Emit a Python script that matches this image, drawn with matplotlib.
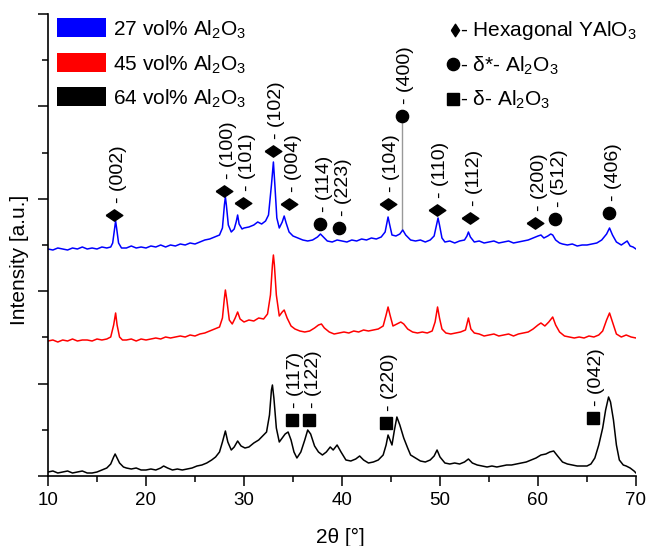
import numpy as np
import matplotlib
matplotlib.use("Agg")
import matplotlib.pyplot as plt
from matplotlib.patches import Rectangle

plt.rcParams['font.family'] = ['Liberation Sans', 'DejaVu Sans']
plt.rcParams['mathtext.fontset'] = 'custom'
plt.rcParams['mathtext.rm'] = 'Liberation Sans'
plt.rcParams['mathtext.it'] = 'Liberation Sans:italic'

# 27 vol% Al2O3 (blue, top)
tt_27 = [10.0, 10.5, 11, 11.5, 12, 12.5, 13, 13.5, 14, 14.5, 15, 15.5, 16, 16.4, 16.6, 16.8, 16.9, 17.0, 17.2,
         17.5, 18, 18.5, 19, 19.5, 20, 20.5, 21, 21.5, 22, 22.5, 23, 23.5, 24, 24.5, 25, 25.5, 26, 26.5, 27,
         27.5, 27.8, 28.0, 28.1, 28.2, 28.4, 28.7, 29.0, 29.2, 29.35, 29.5, 29.8, 30, 30.5, 31, 31.4, 31.8,
         32.2, 32.5, 32.8, 33.0, 33.15, 33.35, 33.6, 33.9, 34.1, 34.3, 34.6, 35, 35.5, 36, 36.5, 37, 37.5,
         37.8, 38.1, 38.5, 39, 39.5, 40, 40.5, 41, 41.5, 42, 42.5, 43, 43.5, 44, 44.4, 44.6, 44.7, 44.85,
         45.1, 45.5, 45.9, 46.2, 46.5, 47, 47.5, 48, 48.5, 49, 49.4, 49.65, 49.8, 49.95, 50.2, 50.5, 51,
         51.5, 52, 52.5, 52.75, 52.9, 53.1, 53.5, 54, 54.5, 55, 55.5, 56, 56.5, 57, 57.5, 58, 58.5, 59, 59.5,
         60, 60.3, 60.6, 61, 61.3, 61.5, 61.8, 62.2, 62.5, 63, 63.5, 64, 64.5, 65, 65.5, 66, 66.5, 67.0,
         67.3, 67.6, 68, 68.5, 68.8, 69.1, 69.4, 69.7, 70]
int_27 = [227, 226, 228, 227, 226, 228, 227, 229, 227, 228, 227, 229, 228, 229, 233, 248, 255, 248, 233,
          228, 228, 230, 228, 229, 228, 230, 229, 231, 229, 231, 230, 232, 231, 233, 232, 234, 236, 237, 239,
          241, 248, 271, 279, 271, 251, 244, 247, 254, 261, 252, 247, 248, 249, 251, 254, 252,
          255, 261, 291, 314, 291, 258, 248, 254, 260, 253, 244, 240, 238, 236, 235, 236, 239,
          242, 239, 235, 234, 236, 235, 234, 236, 235, 237, 236, 238, 237, 239, 244, 254, 259, 252,
          241, 240, 242, 246, 241, 236, 235, 236, 234, 236, 240, 251, 258, 251, 238, 234, 235,
          233, 235, 236, 240, 244, 239, 234, 235, 233, 234, 235, 233, 234, 235, 233, 234, 235, 236, 238,
          240, 241, 238, 240, 242, 241, 236, 233, 232, 231, 232, 230, 231, 231, 232, 233, 236, 242,
          248, 241, 234, 231, 233, 235, 230, 229, 227]

# 45 vol% Al2O3 (red, middle)
tt_45 = [10, 10.5, 11, 11.5, 12, 12.5, 13, 13.5, 14, 14.5, 15, 15.5, 16, 16.4, 16.7, 16.9, 17.05, 17.3, 17.6,
         18, 18.5, 19, 19.5, 20, 20.5, 21, 21.5, 22, 22.5, 23, 23.5, 24, 24.5, 25, 25.5, 26, 26.5, 27, 27.5,
         27.8, 28.0, 28.1, 28.25, 28.5, 28.8, 29.1, 29.35, 29.6, 30, 30.5, 31, 31.5, 32, 32.4, 32.7, 32.9,
         33.0, 33.1, 33.3, 33.6, 33.9, 34.1, 34.4, 34.8, 35.2, 35.7, 36.2, 36.7, 37.2, 37.6, 37.9, 38.2,
         38.7, 39.2, 39.7, 40.2, 40.7, 41.2, 41.7, 42.2, 42.7, 43.2, 43.7, 44.2, 44.5, 44.7, 44.9, 45.2,
         45.6, 46.0, 46.3, 46.7, 47.2, 47.7, 48.2, 48.7, 49.2, 49.5, 49.75, 49.95, 50.2, 50.6, 51.1, 51.6,
         52.1, 52.6, 52.9, 53.15, 53.5, 54, 54.5, 55, 55.5, 56, 56.5, 57, 57.5, 58, 58.5, 59, 59.5, 60,
         60.3, 60.7, 61.1, 61.5, 61.8, 62.2, 62.7, 63.2, 63.7, 64.2, 64.7, 65.2, 65.7, 66.2, 66.6, 67.0,
         67.3, 67.6, 68.0, 68.5, 69, 69.5, 70]
int_45 = [135, 136, 134, 136, 135, 137, 135, 136, 136, 135, 137, 136, 137, 139, 151, 163, 151, 139, 136,
          136, 137, 135, 137, 136, 137, 138, 137, 139, 138, 139, 140, 139, 141, 140, 142, 143, 145, 147, 149,
          158, 178, 186, 176, 156, 152, 158, 164, 157, 154, 156, 155, 158, 157, 162, 181, 211,
          221, 211, 181, 160, 164, 166, 158, 150, 147, 145, 144, 145, 148, 151, 152, 148,
          144, 142, 143, 144, 143, 145, 144, 146, 145, 146, 147, 150, 161, 169, 161, 150,
          152, 154, 152, 147, 144, 143, 144, 143, 145, 154, 169, 158, 147, 143, 142, 143,
          144, 146, 158, 147, 143, 142, 140, 141, 142, 140, 141, 142, 140, 142, 143, 144, 147, 151,
          153, 150, 154, 159, 151, 144, 140, 139, 138, 139, 138, 140, 139, 141, 145, 156,
          163, 154, 142, 139, 141, 139, 138]

# 64 vol% Al2O3 (black, bottom)
tt_64 = [10, 10.5, 11, 11.5, 12, 12.5, 13, 13.5, 14, 14.5, 15, 15.5, 16, 16.4, 16.7, 16.85, 17.0, 17.3, 17.7,
         18, 18.5, 19, 19.5, 20, 20.5, 21, 21.5, 21.8, 22.2, 22.7, 23.2, 23.7, 24.2, 24.7, 25.2, 25.7, 26.2,
         26.7, 27.1, 27.5, 27.8, 28.1, 28.35, 28.7, 29.0, 29.35, 29.7, 30.1, 30.5, 31.0, 31.5, 31.9, 32.3,
         32.6, 32.8, 32.9, 33.05, 33.3, 33.6, 33.9, 34.2, 34.5, 34.8, 35.1, 35.4, 35.8, 36.2, 36.5, 36.8,
         37.2, 37.6, 38.0, 38.4, 38.8, 39.1, 39.5, 39.9, 40.4, 40.9, 41.4, 41.8, 42.2, 42.7, 43.2, 43.7,
         44.2, 44.5, 44.7, 44.9, 45.1, 45.35, 45.6, 45.9, 46.3, 46.7, 47.0, 47.5, 48.0, 48.5, 49.0, 49.4,
         49.7, 50.0, 50.5, 51.0, 51.5, 52.0, 52.5, 52.9, 53.3, 53.8, 54.3, 54.8, 55.3, 55.8, 56.3, 56.8,
         57.3, 57.8, 58.3, 58.8, 59.3, 59.8, 60.3, 60.8, 61.2, 61.6, 62.0, 62.5, 63.0, 63.5, 64.0, 64.5,
         65.0, 65.4, 65.8, 66.2, 66.6, 66.9, 67.2, 67.4, 67.7, 68.0, 68.3, 68.7, 69.0, 69.4, 69.8, 70]
int_64 = [4, 5, 3, 4, 5, 3, 4, 5, 3, 3, 4, 6, 8, 12, 19, 22, 19, 13, 9,
          8, 7, 8, 6, 6, 7, 6, 8, 10, 8, 6, 7, 6, 7, 8, 10, 11, 13,
          16, 19, 24, 34, 45, 34, 26, 29, 35, 30, 28, 29, 33, 36, 40, 44,
          61, 86, 91, 78, 48, 34, 38, 42, 44, 36, 24, 18, 24, 36, 46, 42,
          30, 24, 21, 24, 29, 26, 31, 24, 16, 15, 17, 20, 16, 13, 14, 16,
          21, 31, 41, 36, 31, 46, 59, 51, 38, 28, 21, 18, 15, 14, 16, 20,
          26, 19, 13, 12, 13, 12, 14, 17, 13, 11, 10, 9, 10, 9, 10, 11,
          11, 12, 13, 14, 16, 18, 21, 22, 24, 25, 20, 14, 12, 11, 10, 10,
          10, 12, 18, 31, 48, 66, 79, 74, 56, 31, 16, 11, 10, 8, 5, 3]

series_labels = ['27 vol% Al$_2$O$_3$', '45 vol% Al$_2$O$_3$', '64 vol% Al$_2$O$_3$']
series_colors = ['#0000ff', '#ff0000', '#000000']

# reflections: (2theta, intensity of marker, label)
yalo3_tt = [16.73, 27.96, 29.9, 32.93, 34.59, 44.66, 49.66, 53.06, 59.69]
yalo3_y = [261, 285, 273, 325, 272, 272, 266, 258, 253]
yalo3_hkl = ['(002)', '(100)', '(101)', '(102)', '(004)', '(104)', '(110)', '(112)', '(200)']

dstar_tt = [37.76, 39.72, 46.09, 61.73, 67.28]
dstar_y = [252, 248, 360, 257, 263]
dstar_hkl = ['(114)', '(223)', '(400)', '(512)', '(406)']

delta_tt = [34.87, 36.66, 44.46, 65.58]
delta_y = [56, 56, 53, 58]
delta_hkl = ['(117)', '(122)', '(220)', '(042)']

fig = plt.figure(figsize=(6.47, 5.46), dpi=100)
ax = fig.add_axes([48 / 647, 70 / 546, 588 / 647, 462 / 546])

for tt, inten, col in zip([tt_27, tt_45, tt_64], [int_27, int_45, int_64], series_colors):
    ax.plot(tt, inten, color=col, lw=1.1)

# (400) drop line down to the pattern
ax.plot([dstar_tt[2], dstar_tt[2]], [246, dstar_y[2]], color='#999999', lw=1.0, zorder=1)

wide_diamond = [(-1, 0), (0, 0.68), (1, 0), (0, -0.68), (-1, 0)]
ax.plot(yalo3_tt, yalo3_y, ls='none', marker=wide_diamond, ms=12, color='k', mec='k')
ax.plot(dstar_tt, dstar_y, ls='none', marker='o', ms=8.8, color='k')
ax.plot(delta_tt, delta_y, ls='none', marker='s', ms=8.5, color='k')

for tt, yy, labs in [(yalo3_tt, yalo3_y, yalo3_hkl), (dstar_tt, dstar_y, dstar_hkl),
                     (delta_tt, delta_y, delta_hkl)]:
    for x, y, lab in zip(tt, yy, labs):
        ax.annotate('- ' + lab, (x, y), xytext=(3, 8.5), textcoords='offset points',
                    rotation=90, ha='center', va='bottom', fontsize=14)

# left legend
for i, (lab, col) in enumerate(zip(series_labels, series_colors)):
    yb = [0.9502, 0.8745, 0.8009][i]
    ax.add_patch(Rectangle((0.0153, yb), 0.0833, 0.0411, transform=ax.transAxes,
                           facecolor=col, edgecolor='none', clip_on=False))
    ax.text(0.1105, yb + 0.002, lab, transform=ax.transAxes, fontsize=15, va='baseline')

# right legend (phases)
tall_diamond = [(-0.65, 0), (0, 1), (0.65, 0), (0, -1), (-0.65, 0)]
ax.plot([0.692], [0.9654], transform=ax.transAxes, marker=tall_diamond, ms=9, color='k', clip_on=False)
ax.plot([0.6888], [0.8918], transform=ax.transAxes, marker='o', ms=8.8, color='k', clip_on=False)
ax.plot([0.6888], [0.8167], transform=ax.transAxes, marker='s', ms=8.5, color='k', clip_on=False)
ax.text(0.7007, 0.9513, '- Hexagonal YAlO$_3$', transform=ax.transAxes, fontsize=15, va='baseline')
ax.text(0.7007, 0.875, '- δ*- Al$_2$O$_3$', transform=ax.transAxes, fontsize=15, va='baseline')
ax.text(0.7007, 0.8009, '- δ- Al$_2$O$_3$', transform=ax.transAxes, fontsize=15, va='baseline')

ax.set_xlim(10, 70)
ax.set_ylim(0, 462)
ax.set_xticks(np.arange(10, 71, 10))
ax.set_xticks(np.arange(15, 70, 10), minor=True)
ax.set_yticks(np.arange(6) * 92.4)
ax.set_yticks(np.arange(5) * 92.4 + 46.2, minor=True)
ax.set_yticklabels([])
ax.tick_params(which='major', direction='out', length=7.5, width=1.1, labelsize=13.5, pad=4)
ax.tick_params(which='minor', direction='out', length=4, width=1.1)
for s in ['top', 'right']:
    ax.spines[s].set_visible(False)
for s in ['left', 'bottom']:
    ax.spines[s].set_linewidth(1.2)

ax.set_xlabel('2θ [°]', fontsize=15)
ax.set_ylabel('Intensity [a.u.]', fontsize=15)
ax.xaxis.set_label_coords(0.498, -0.112)
ax.yaxis.set_label_coords(-0.033, 0.4675)

fig.savefig('out.png', dpi=100)
